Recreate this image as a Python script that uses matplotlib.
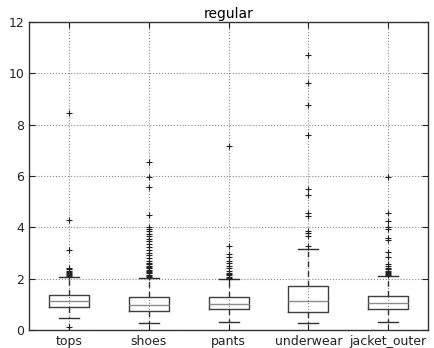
import matplotlib
matplotlib.use("Agg")
import matplotlib.pyplot as plt

# categorias y estadisticas de cada caja
categorias = ["tops", "shoes", "pants", "underwear", "jacket_outer"]
q1 = [0.88, 0.75, 0.81, 0.70, 0.81]
mediana = [1.13, 0.97, 1.01, 1.14, 1.03]
q3 = [1.37, 1.29, 1.30, 1.73, 1.34]
bigote_inf = [0.48, 0.26, 0.29, 0.25, 0.29]
bigote_sup = [2.08, 2.03, 1.97, 3.16, 2.10]

atipicos_tops = [0.12, 8.45, 4.3, 3.1, 2.42, 2.36, 2.3, 2.25, 2.2, 2.17, 2.14, 2.11]
atipicos_shoes = [6.55, 5.95, 5.56, 4.49, 4.02, 3.95, 3.85, 3.75, 3.65, 3.55, 3.45,
                  3.35, 3.22, 3.1, 3.0, 2.9, 2.8, 2.7, 2.62, 2.55, 2.5, 2.45, 2.4,
                  2.35, 2.3, 2.25, 2.2, 2.15, 2.1, 2.06]
atipicos_pants = [7.18, 3.27, 2.95, 2.85, 2.7, 2.6, 2.5, 2.4, 2.3, 2.22, 2.17,
                  2.12, 2.08, 2.03, 2.0]
atipicos_underwear = [10.71, 9.61, 8.75, 7.6, 5.48, 5.26, 4.56, 4.45, 3.87, 3.77,
                      3.64, 3.27]
atipicos_jacket = [5.95, 4.57, 4.26, 4.02, 3.92, 3.57, 3.51, 3.05, 2.86, 2.55,
                   2.48, 2.42, 2.36, 2.3, 2.25, 2.2, 2.16, 2.13]
atipicos = [atipicos_tops, atipicos_shoes, atipicos_pants, atipicos_underwear,
            atipicos_jacket]

plt.rcParams["font.family"] = "DejaVu Sans"

fig = plt.figure(figsize=(4.35, 3.48), dpi=100)
ax = fig.add_axes([0.067, 0.052, 0.917, 0.885])

stats = []
for i in range(len(categorias)):
    stats.append({
        "label": categorias[i],
        "q1": q1[i],
        "med": mediana[i],
        "q3": q3[i],
        "whislo": bigote_inf[i],
        "whishi": bigote_sup[i],
        "fliers": atipicos[i],
    })

ax.bxp(stats, widths=0.5,
       boxprops=dict(color="#404040", linewidth=1.0),
       medianprops=dict(color="#8c8c8c", linewidth=1.0),
       whiskerprops=dict(color="#303030", linewidth=1.0, linestyle="--", dashes=(4, 3)),
       capprops=dict(color="#303030", linewidth=1.0),
       flierprops=dict(marker="+", markeredgecolor="#222222", markersize=5,
                       markeredgewidth=0.8, linestyle="none"))

ax.set_ylim(0, 12)
ax.set_yticks([0, 2, 4, 6, 8, 10, 12])
ax.set_xlim(0.5, 5.5)
ax.grid(True, color="#8a8a8a", linestyle=":", linewidth=0.8)
ax.set_axisbelow(True)
for s in ax.spines.values():
    s.set_color("#333333")
    s.set_linewidth(1.0)
ax.tick_params(axis="both", labelsize=9, length=4, direction="in",
               top=True, right=True, colors="#222222")
ax.set_title("regular", fontsize=10, pad=3)

fig.savefig("out.png", dpi=100)
